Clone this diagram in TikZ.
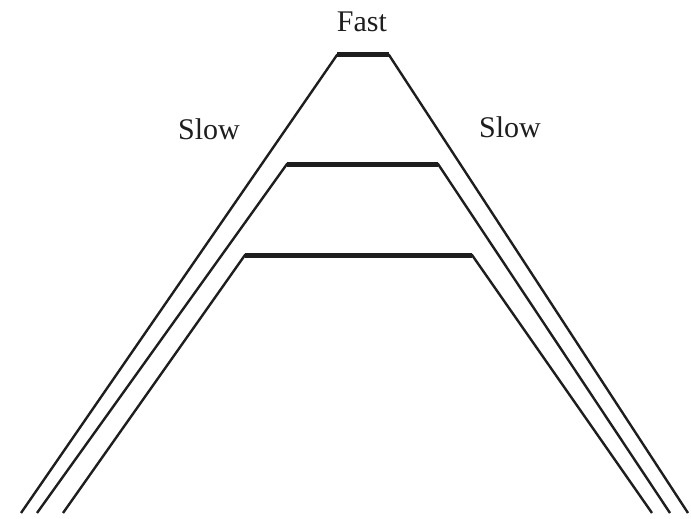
\documentclass[tikz,border=0pt]{standalone}
\usepackage{fontspec}
\setmainfont{Liberation Serif}
\usepackage{tikz}
\usetikzlibrary{positioning}
\definecolor{Ink}{HTML}{1E1E1E}
\tikzset{
  wall/.style={draw=Ink,line width=2.4pt,line join=miter},
  roof/.style={draw=Ink,line width=5pt},
  tag/.style={font=\fontsize{30}{36}\selectfont,text=Ink,inner sep=0pt}
}

\begin{document}
\begin{tikzpicture}[x=1pt,y=-1pt]
  \useasboundingbox (0,0) rectangle (691,519);
  % three nested layers, outer to inner
  \foreach \lb/\lt/\rt/\rb/\h in {21/337/389/688/55,37/287/438/670/164,63/245/472/652/255}{
    \draw[wall] (\lb,513) -- (\lt,\h) -- (\rt,\h) -- (\rb,513);
    \draw[roof] (\lt,\h) -- (\rt,\h);
  }
  \node[tag] (fast) at (362,22) {Fast};
  \node[tag] (slowleft) at (209,129) {Slow};
  \node[tag] (slowright) at (510,127) {Slow};
\end{tikzpicture}
\end{document}
